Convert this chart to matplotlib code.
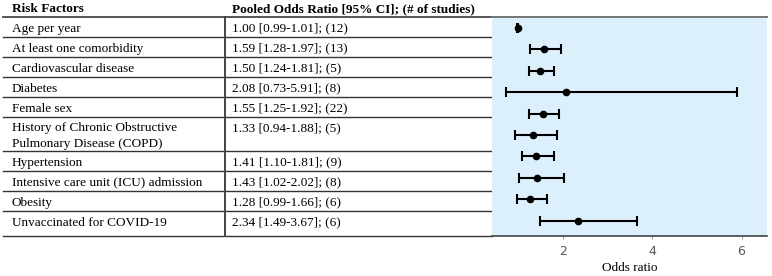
import matplotlib
matplotlib.use("Agg")
import matplotlib.pyplot as plt
from matplotlib.lines import Line2D

factors = ["Age per year", "At least one comorbidity", "Cardiovascular disease", "Diabetes",
           "Female sex", "History of Chronic Obstructive\nPulmonary Disease (COPD)", "Hypertension",
           "Intensive care unit (ICU) admission", "Obesity", "Unvaccinated for COVID-19"]
odds = [1.00, 1.59, 1.50, 2.08, 1.55, 1.33, 1.41, 1.43, 1.28, 2.34]
ci_low = [0.99, 1.28, 1.24, 0.73, 1.25, 0.94, 1.10, 1.02, 0.99, 1.49]
ci_high = [1.01, 1.97, 1.81, 5.91, 1.92, 1.88, 1.81, 2.02, 1.66, 3.67]
n_studies = [12, 13, 5, 8, 22, 5, 9, 8, 6, 6]
xticks = [2, 4, 6]

W, H = 772, 276
plt.rcParams['font.family'] = ['Liberation Serif', 'DejaVu Serif']
fig = plt.figure(figsize=(W / 100, H / 100), dpi=100)

# table layer in pixel coordinates
tab = fig.add_axes([0, 0, 1, 1])
tab.set_xlim(0, W)
tab.set_ylim(H, 0)
tab.axis('off')

row_edges = [16.7, 36.7, 56.7, 76.7, 96.7, 116.7, 150.7, 170.7, 190.7, 210.7, 235.5]
fs = 9.5
tab.text(12, 12.3, "Risk Factors", fontsize=fs, fontweight='bold', va='baseline', ha='left')
tab.text(232, 12.3, "Pooled Odds Ratio [95% CI]; (# of studies)", fontsize=fs,
         fontweight='bold', va='baseline', ha='left')
for i, f in enumerate(factors):
    top = row_edges[i]
    yb = top + 15
    txt = f"{odds[i]:.2f} [{ci_low[i]:.2f}-{ci_high[i]:.2f}]; ({n_studies[i]})"
    lines = f.split("\n")
    for k, ln in enumerate(lines):
        tab.text(12, yb - 0.5 + k * 15.5 if len(lines) > 1 else yb, ln, fontsize=fs,
                 va='baseline', ha='left')
    tab.text(232, yb - 0.5 if len(lines) > 1 else yb, txt, fontsize=fs, va='baseline', ha='left')

# horizontal lines
tab.add_line(Line2D([3, 767], [16.5, 16.5], color='#555555', lw=1.4))
for y in row_edges[1:-1]:
    tab.add_line(Line2D([3, 492], [y, y], color='#333333', lw=1.0))
tab.add_line(Line2D([3, 492], [235.5, 235.5], color='#333333', lw=1.0))
tab.add_line(Line2D([225, 225], [16.5, 235.5], color='#444444', lw=1.4))

# forest plot axes
x0, x1, y0, y1 = 492, 767, 16.7, 235.5
ax = fig.add_axes([x0 / W, 1 - y1 / H, (x1 - x0) / W, (y1 - y0) / H])
ax.set_facecolor('#dcf0fc')
ypos = list(range(len(odds)))
xerr = [[o - l for o, l in zip(odds, ci_low)], [h - o for o, h in zip(odds, ci_high)]]
ax.errorbar(odds, ypos, xerr=xerr, fmt='o', color='black', ms=4.5, capsize=3.5,
            elinewidth=1.5, capthick=1.5)
ax.set_xlim(0.42, 6.57)
ax.set_ylim(9.70, -0.53)
ax.set_yticks([])
ax.set_xticks(xticks)
ax.set_xticklabels([str(t) for t in xticks], fontsize=9, color='#555555',
                   family=['DejaVu Sans'])
ax.tick_params(axis='x', length=2, width=0.6, color='#888888', pad=5)
for s in ['left', 'right']:
    ax.spines[s].set_visible(False)
ax.spines['top'].set_color('#777777')
ax.spines['top'].set_linewidth(1.4)
ax.spines['bottom'].set_color('#444444')
ax.spines['bottom'].set_linewidth(1.2)
ax.set_xlabel("Odds ratio", fontsize=fs, labelpad=3)

fig.savefig("out.png", dpi=100)
